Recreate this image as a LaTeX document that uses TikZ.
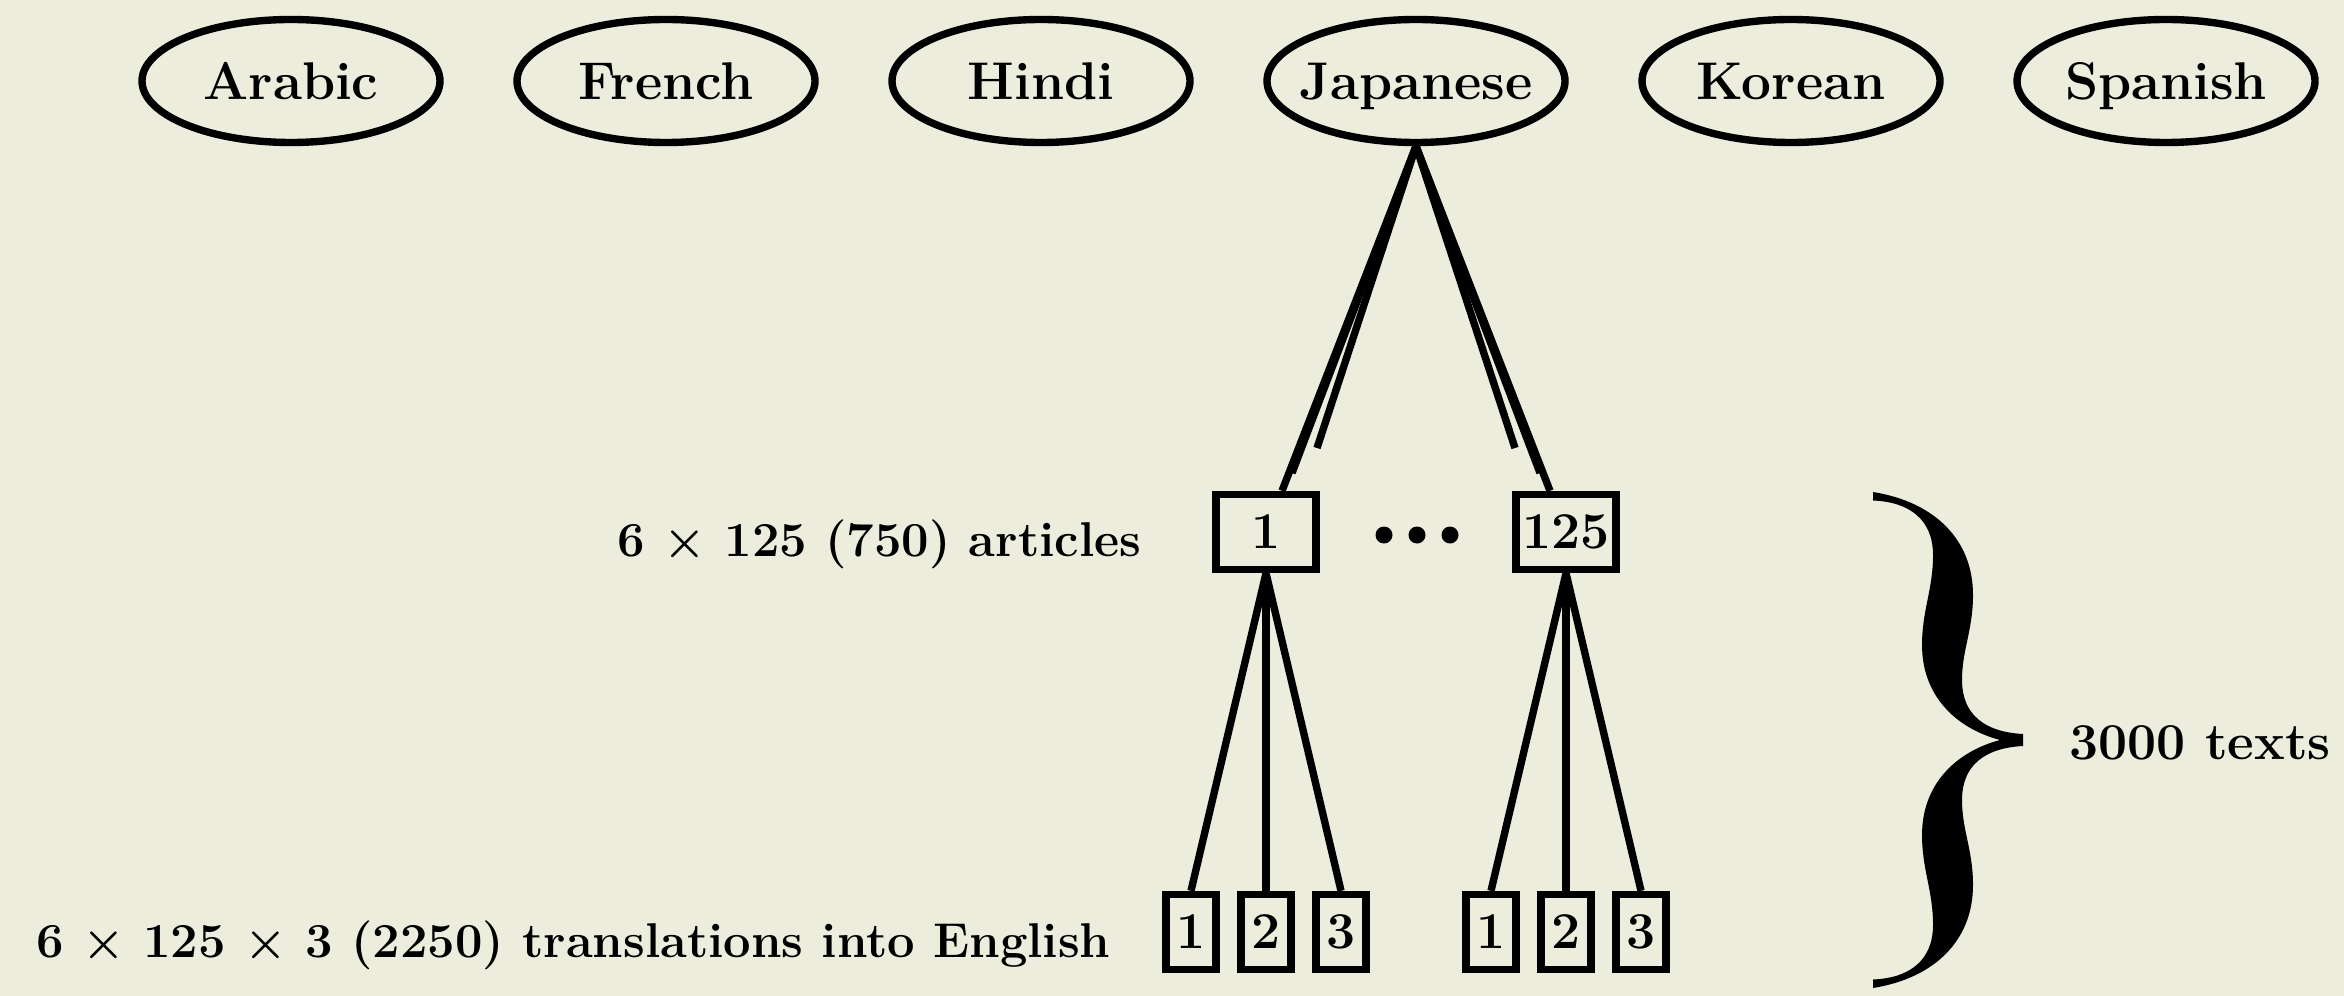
\documentclass[tikz,border=0pt]{standalone}
\usetikzlibrary{shapes.geometric}
\definecolor{paper}{RGB}{237,237,221}

\begin{document}
\begin{tikzpicture}
[line width=2.1pt,every node/.style={font=\fontsize{14.7}{18}\selectfont\bfseries}]
\tikzset{lang/.style = {shape=ellipse,draw,minimum width=2.98cm,minimum height=1.23cm,inner sep=0pt,text height=10.5pt,text depth=0pt,font=\fontsize{15.1}{18}\selectfont\bfseries}}
\tikzset{doc/.style = {shape=rectangle,draw,minimum width=1cm,minimum height=0.75cm,inner sep=0pt}}
\tikzset{trans/.style = {shape=rectangle,draw,minimum width=0.5cm,minimum height=0.75cm,inner sep=0pt}}
\tikzset{lbl/.style = {anchor=east,inner sep=0pt,font=\fontsize{13.9}{17}\selectfont\bfseries}}
  \fill[paper] (0,0) rectangle (23.44,-9.96);
  \useasboundingbox (0,0) rectangle (23.44,-9.96);
  \node[lang] (ar) at (2.91,-0.81){\makebox[0pt]{Arabic}};
  \node[lang] (fr) at (6.66,-0.81){\makebox[0pt]{French}};
  \node[lang] (hi) at (10.41,-0.81){\makebox[0pt]{Hindi}};
  \node[lang] (ja) at (14.16,-0.81){\makebox[0pt]{Japanese}};
  \node[lang] (ko) at (17.91,-0.81){\makebox[0pt]{Korean}};
  \node[lang] (es) at (21.66,-0.81){\makebox[0pt]{Spanish}};
  \node[doc] (a1) at (12.66,-5.32){1};
  \node[doc] (a125) at (15.66,-5.32){125};
  \coordinate (dots) at (14.17,-5.35);
  \node[trans] (t1) at (11.91,-9.32){1};
  \node[trans] (t2) at (12.66,-9.32){2};
  \node[trans] (t3) at (13.41,-9.32){3};
  \node[trans] (u1) at (14.91,-9.32){1};
  \node[trans] (u2) at (15.66,-9.32){2};
  \node[trans] (u3) at (16.41,-9.32){3};
  \node[lbl] (artl) at (11.45,-5.44){6 × 125 (750) articles};
  \node[lbl] (trl) at (11.14,-9.45){6 × 125 × 3 (2250) translations into English};
  \coordinate (brace) at (19.47,-7.40);
  \node (total) at (22.0,-7.43){3000 texts};
  \coordinate (s1) at (13.17,-4.48);
  \coordinate (s2) at (12.92,-4.73);
  \coordinate (s3) at (15.15,-4.48);
  \coordinate (s4) at (15.40,-4.73);
\foreach \d in {-0.33,0,0.33}
  \fill ([xshift=\d cm]dots) circle (0.085);
\foreach \s in {1,-1}
  \fill[shift={(brace)},yscale=\s] (-0.74,2.48)
    .. controls (-0.12,2.38) and (0.26,2.00) .. (0.26,1.45)
    .. controls (0.26,1.10) and (0.15,0.90) .. (0.15,0.60)
    .. controls (0.15,0.25) and (0.38,0.08) .. (0.76,0.06)
    -- (0.76,0) -- (0.53,0)
    .. controls (0.08,0.12) and (-0.25,0.45) .. (-0.25,0.95)
    .. controls (-0.25,1.30) and (-0.14,1.50) .. (-0.14,1.85)
    .. controls (-0.14,2.20) and (-0.37,2.38) .. (-0.74,2.395)
    -- cycle;
\foreach \x in {a1,a125,s1,s2,s3,s4}
  \draw (ja.south) -- (\x);
\foreach \x in {t1,t2,t3}
  \draw (a1.south) -- (\x.north);
\foreach \x in {u1,u2,u3}
  \draw (a125.south) -- (\x.north);
\end{tikzpicture}
\end{document}
